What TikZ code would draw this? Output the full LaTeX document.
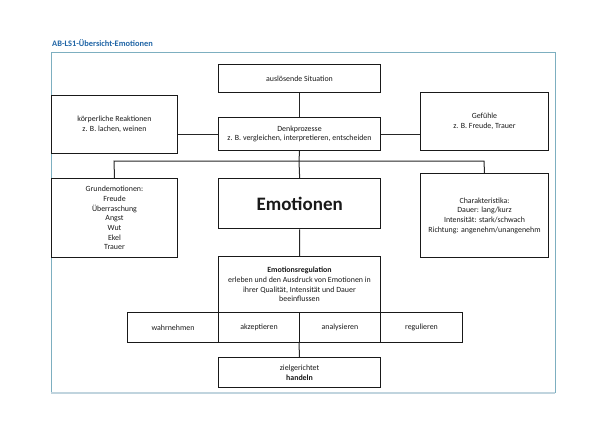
\documentclass[tikz,border=0pt]{standalone}
\usepackage{fontspec}
\setmainfont{Carlito}
\definecolor{framec}{RGB}{125,175,192}
\definecolor{frameb}{RGB}{192,212,222}
\definecolor{titlec}{RGB}{31,100,165}
\definecolor{textc}{RGB}{25,25,25}
\begin{document}
\begin{tikzpicture}[x=1pt,y=-1pt,
  box/.style={draw=black!90, line width=1pt, inner sep=0pt, align=center,
    text=textc, font=\fontsize{7.9}{9.7}\selectfont, anchor=north west},
  con/.style={draw=black!85, line width=1pt}]
\useasboundingbox (0,0) rectangle (600,424);
% frame and title
\node[anchor=base west, inner sep=0pt, text=titlec, font=\fontsize{8.4}{9}\selectfont\bfseries] (title) at (52,46.5) {AB-LS1-Übersicht-Emotionen};
\draw[framec, line width=0.9pt] (51,393) -- (51,52) -- (555,52) -- (555,393);
\draw[frameb, line width=1.8pt] (51,393) -- (555.4,393);
% boxes
\node[box, minimum width=162pt, minimum height=28pt] (sit) at (218,64) {auslösende Situation};
\node[box, minimum width=126pt, minimum height=58pt] (koerp) at (51,95) {körperliche Reaktionen\\z. B. lachen, weinen};
\node[box, minimum width=162pt, minimum height=33pt] (denk) at (218,117) {Denkprozesse\\z. B. vergleichen, interpretieren, entscheiden};
\node[box, minimum width=128pt, minimum height=58pt] (gef) at (420,92) {Gefühle\\z. B. Freude, Trauer};
\node[box, minimum width=126pt, minimum height=79pt] (grund) at (51,178) {Grundemotionen:\\Freude\\Überraschung\\Angst\\Wut\\Ekel\\Trauer};
\node[box, line width=1.3pt, minimum width=162pt, minimum height=50pt, font=\fontsize{19}{21}\selectfont\bfseries] (emo) at (218,178) {Emotionen};
\node[box, minimum width=128pt, minimum height=84pt] (char) at (420,173) {Charakteristika:\\Dauer: lang/kurz\\Intensität: stark/schwach\\Richtung: angenehm/unangenehm};
\node[box, minimum width=162pt, minimum height=56pt] (reg) at (218,256) {\textbf{Emotionsregulation}\\erleben und den Ausdruck von Emotionen in\\ihrer Qualität, Intensität und Dauer\\beeinflussen};
\node[box, minimum width=91pt, minimum height=30pt] (wahr) at (127,312) {wahrnehmen};
\node[box, minimum width=81pt, minimum height=30pt] (akz) at (218,312) {akzeptieren};
\node[box, minimum width=81pt, minimum height=30pt] (ana) at (299,312) {analysieren};
\node[box, minimum width=82pt, minimum height=30pt] (regu) at (380,312) {regulieren};
\node[box, minimum width=162pt, minimum height=30pt] (hand) at (218,357) {zielgerichtet\\\textbf{handeln}};
% connectors
\coordinate (hl) at (114,161);
\coordinate (hr) at (484,161);
\coordinate (hm) at (299,161);
\draw[con] (sit.south) -- (denk.north);
\draw[con] (koerp.east |- denk.west) -- (denk.west);
\draw[con] (denk.east) -- (gef.west |- denk.east);
\draw[con] (denk.south) -- (hm) -- (emo.north);
\draw[con] (grund.north) -- (hl) -- (hr) -- (char.north);
\draw[con] (emo.south) -- (reg.north);
\draw[con] (ana.south west) -- (hand.north);
\end{tikzpicture}
\end{document}
